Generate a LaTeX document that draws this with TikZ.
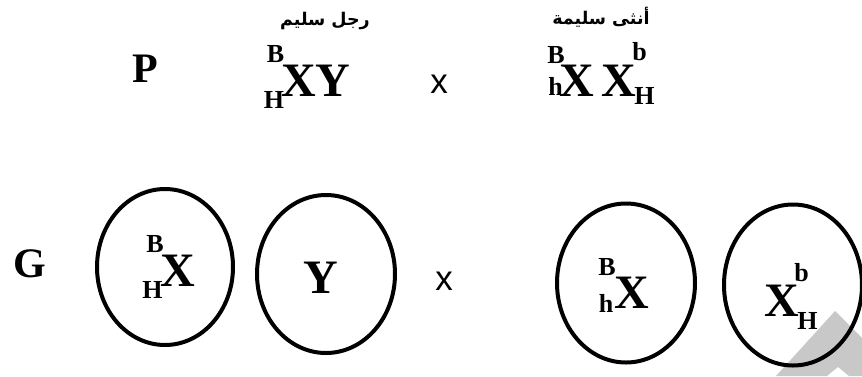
\documentclass[tikz,border=0pt]{standalone}
\usepackage{fontspec}
\setmainfont{Liberation Serif}
\newfontfamily\arabicfont[Script=Arabic]{DejaVu Sans}
\newfontfamily\crossfont{Liberation Sans}
\TeXXeTstate=1
\usetikzlibrary{shapes.geometric}
\definecolor{markgray}{RGB}{200,200,200}

\tikzset{
	bigl/.style={inner sep=0pt, font=\fontsize{48}{48}\selectfont\bfseries},
	rowl/.style={inner sep=0pt, font=\fontsize{42}{42}\selectfont\bfseries},
	allel/.style={inner sep=0pt, font=\fontsize{26}{26}\selectfont\bfseries},
	crossx/.style={inner sep=0pt, font=\crossfont\fontsize{35}{35}\selectfont},
	arlabel/.style={inner sep=0pt, font=\arabicfont\fontsize{17.5}{17.5}\selectfont\bfseries},
	gamete/.style={draw, ellipse, line width=4pt, inner sep=0pt}
}

\begin{document}
\begin{tikzpicture}[x=1pt,y=-1pt]
	\useasboundingbox (0,0) rectangle (862,376);
	% grey mark in the corner
	\fill[markgray] (776,376) -- (835,311) -- (862,338) -- (862,376) -- (849,376) -- (838,367) -- (827,376) -- cycle;

	% parents
	\node[arlabel] (mtitle) at (325,21) {\beginR رجل سليم\endR};
	\node[arlabel] (ftitle) at (601,17) {\beginR أنثى سليمة\endR};
	\node[rowl] (P) at (145.5,69) {P};
	\node[allel] (mB) at (275.5,54) {B};
	\node[allel] (mH) at (274,99.5) {H};
	\node[bigl] (mXY) at (316,81) {XY};
	\node[crossx] (px) at (439,84) {x};
	\node[allel] (fB) at (556,55.5) {B};
	\node[allel] (fh) at (555.5,86.5) {h};
	\node[bigl] (fX1) at (577,81) {X};
	\node[bigl] (fX2) at (619,81) {X};
	\node[allel] (fb) at (639.5,52) {b};
	\node[allel] (fH) at (644.5,96) {H};

	% gametes
	\node[rowl] (G) at (30,263.5) {G};
	\node[gamete, minimum width=136pt, minimum height=156pt] (g1) at (165,267) {};
	\node[gamete, minimum width=138pt, minimum height=158pt] (g2) at (326,274) {};
	\node[gamete, minimum width=138pt, minimum height=159pt] (g3) at (626,283) {};
	\node[gamete, minimum width=138pt, minimum height=161pt] (g4) at (793,285) {};
	\node[allel] (g1B) at (155,244.5) {B};
	\node[allel] (g1H) at (152.5,289.5) {H};
	\node[bigl] (g1X) at (178,271) {X};
	\node[bigl] (g2Y) at (320.5,277.5) {Y};
	\node[crossx] (gx) at (444,281) {x};
	\node[allel] (g3B) at (607,267) {B};
	\node[allel] (g3h) at (606,303.5) {h};
	\node[bigl] (g3X) at (631.5,292.5) {X};
	\node[bigl] (g4X) at (781.5,301) {X};
	\node[allel] (g4b) at (801.5,273) {b};
	\node[allel] (g4H) at (807.5,320.5) {H};
\end{tikzpicture}
\end{document}
